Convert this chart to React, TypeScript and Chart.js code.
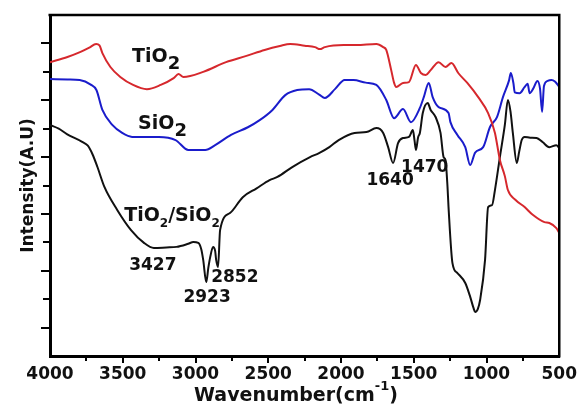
import { useEffect, useRef } from "react";
import { Chart, registerables } from "chart.js";

Chart.register(...registerables);

// FTIR spectra (transmittance, offset for clarity)
const tio2Wavenumber = [4000, 3880, 3790, 3730, 3683, 3660, 3640, 3585, 3517, 3429, 3334, 3239, 3150, 3117, 3083, 2947, 2790, 2650, 2525, 2420, 2349, 2250, 2179, 2145, 2111, 1982, 1893, 1757, 1710, 1689, 1655, 1635, 1621, 1574, 1533, 1485, 1451, 1417, 1384, 1329, 1282, 1241, 1193, 1132, 1057, 989, 942, 908, 874, 853, 800, 738, 680, 602, 568, 520, 500];
const tio2Intensity = [10.34, 10.52, 10.70, 10.85, 10.98, 10.93, 10.66, 10.17, 9.82, 9.54, 9.39, 9.54, 9.78, 9.92, 9.82, 10.00, 10.34, 10.56, 10.77, 10.91, 10.98, 10.92, 10.87, 10.80, 10.87, 10.94, 10.94, 10.98, 10.87, 10.77, 10.06, 9.61, 9.47, 9.61, 9.64, 10.24, 9.96, 9.89, 10.06, 10.34, 10.17, 10.31, 9.95, 9.61, 9.11, 8.55, 7.85, 6.90, 6.33, 5.84, 5.49, 5.24, 4.96, 4.71, 4.68, 4.50, 4.33];

const sio2Wavenumber = [4000, 3880, 3796, 3720, 3681, 3640, 3572, 3504, 3436, 3340, 3252, 3137, 3049, 2990, 2933, 2865, 2756, 2640, 2559, 2471, 2383, 2301, 2219, 2150, 2111, 2040, 1975, 1914, 1830, 1757, 1689, 1635, 1574, 1519, 1458, 1431, 1397, 1370, 1329, 1261, 1248, 1200, 1146, 1112, 1078, 1023, 976, 928, 887, 845, 833, 815, 806, 772, 740, 717, 704, 680, 650, 632, 618, 605, 580, 554, 530, 500];
const sio2Intensity = [9.75, 9.73, 9.71, 9.55, 9.36, 8.66, 8.13, 7.85, 7.71, 7.71, 7.71, 7.60, 7.25, 7.25, 7.25, 7.42, 7.78, 8.05, 8.30, 8.66, 9.18, 9.36, 9.39, 9.20, 9.08, 9.40, 9.71, 9.71, 9.62, 9.54, 9.01, 8.37, 8.69, 8.23, 8.73, 9.11, 9.61, 9.11, 8.76, 8.55, 8.23, 7.78, 7.35, 6.72, 7.16, 7.35, 8.06, 8.41, 9.11, 9.70, 9.96, 9.60, 9.28, 9.25, 9.45, 9.58, 9.25, 9.40, 9.68, 9.40, 8.59, 9.50, 9.68, 9.71, 9.66, 9.47];

const compositeWavenumber = [4000, 3940, 3884, 3776, 3740, 3708, 3674, 3626, 3538, 3443, 3354, 3286, 3200, 3130, 3050, 3015, 2981, 2960, 2947, 2926, 2912, 2899, 2879, 2865, 2858, 2845, 2831, 2763, 2675, 2580, 2491, 2437, 2335, 2213, 2151, 2080, 2016, 1907, 1825, 1757, 1710, 1676, 1642, 1608, 1574, 1533, 1506, 1495, 1485, 1470, 1458, 1438, 1404, 1384, 1350, 1316, 1295, 1282, 1268, 1261, 1234, 1200, 1146, 1112, 1090, 1078, 1060, 1044, 1010, 989, 962, 942, 908, 874, 853, 835, 819, 792, 775, 758, 738, 700, 656, 615, 568, 520, 500];
const compositeIntensity = [8.13, 8.00, 7.81, 7.53, 7.40, 7.10, 6.65, 5.95, 5.14, 4.43, 3.98, 3.80, 3.82, 3.84, 3.95, 4.01, 3.98, 3.75, 3.38, 2.60, 3.10, 3.48, 3.84, 3.70, 3.38, 3.13, 4.43, 5.03, 5.59, 5.90, 6.19, 6.30, 6.65, 7.00, 7.14, 7.35, 7.60, 7.85, 7.88, 8.02, 7.85, 7.35, 6.79, 7.49, 7.67, 7.71, 7.95, 7.60, 7.25, 7.70, 7.85, 8.55, 8.90, 8.66, 8.41, 7.85, 7.00, 6.90, 5.95, 5.24, 3.27, 2.92, 2.57, 2.08, 1.70, 1.55, 1.65, 1.97, 3.38, 5.24, 5.31, 5.84, 7.00, 8.13, 9.01, 8.60, 7.85, 6.79, 7.20, 7.60, 7.71, 7.68, 7.67, 7.53, 7.35, 7.42, 7.32];

// Axis ranges and tick labels
const wavenumberTicks = [4000, 3500, 3000, 2500, 2000, 1500, 1000, 500];
const intensityMin = 0;
const intensityMax = 12;

// Peak assignments (wavenumber, intensity at text baseline)
const peakLabels = ["3427", "2923", "2852", "1640", "1470"];
const peakLabelX = [3456, 3083, 2892, 1825, 1587];
const peakLabelY = [3.03, 1.90, 2.60, 6.02, 6.47];

// Sample names: [main text, subscript] segments
const sampleNames = [
  [["TiO", "2"]],
  [["SiO", "2"]],
  [["TiO", "2"], ["/SiO", "2"]],
];
const sampleLabelX = [3436, 3395, 3490];
const sampleLabelY = [10.34, 7.99, 4.75];

const FONT = "'DejaVu Sans', Arial, sans-serif";

const toPoints = (xs: number[], ys: number[]) => xs.map((x, i) => ({ x, y: ys[i] }));

type Seg = { t: string; size: number; dy: number };

function drawSegments(ctx: CanvasRenderingContext2D, segs: Seg[], x: number, y: number) {
  let cx = x;
  for (const s of segs) {
    ctx.font = `bold ${s.size}px ${FONT}`;
    ctx.fillText(s.t, cx, y + s.dy);
    cx += ctx.measureText(s.t).width;
  }
}

function segmentsWidth(ctx: CanvasRenderingContext2D, segs: Seg[]) {
  let w = 0;
  for (const s of segs) {
    ctx.font = `bold ${s.size}px ${FONT}`;
    w += ctx.measureText(s.t).width;
  }
  return w;
}

const framePlugin = {
  id: "frameAndLabels",
  afterDraw(chart: any) {
    const { ctx, chartArea: a, scales } = chart;
    const xs = scales.x;
    const ys = scales.y;
    ctx.save();
    ctx.strokeStyle = "#000";
    ctx.fillStyle = "#111";

    // top and right frame
    ctx.lineWidth = 2.5;
    ctx.beginPath();
    ctx.moveTo(a.left - 1.5, a.top);
    ctx.lineTo(a.right, a.top);
    ctx.lineTo(a.right, a.bottom + 1.5);
    ctx.stroke();

    // outward tick marks
    ctx.lineWidth = 2;
    ctx.beginPath();
    for (let v = intensityMin + 1; v < intensityMax; v++) {
      const y = Math.round(ys.getPixelForValue(v));
      const len = v % 2 === 1 ? 9 : 7;
      ctx.moveTo(a.left - len, y);
      ctx.lineTo(a.left, y);
    }
    for (let w = 750; w < 4000; w += 250) {
      const x = Math.round(xs.getPixelForValue(w));
      const len = w % 500 === 0 ? 7 : 5;
      ctx.moveTo(x, a.bottom);
      ctx.lineTo(x, a.bottom + len);
    }
    ctx.stroke();

    ctx.textAlign = "left";
    ctx.textBaseline = "alphabetic";

    // peak positions
    ctx.font = `bold 17px ${FONT}`;
    peakLabels.forEach((t, i) => {
      ctx.fillText(t, xs.getPixelForValue(peakLabelX[i]), ys.getPixelForValue(peakLabelY[i]));
    });

    // sample names with subscripts
    sampleNames.forEach((parts, i) => {
      const small = parts.length > 1;
      const segs: Seg[] = [];
      parts.forEach(([main, sub]) => {
        segs.push({ t: main, size: 19, dy: 0 });
        segs.push({ t: sub, size: small ? 12 : 18, dy: small ? 6 : 7 });
      });
      drawSegments(ctx, segs, xs.getPixelForValue(sampleLabelX[i]), ys.getPixelForValue(sampleLabelY[i]));
    });

    // axis titles
    const xTitle: Seg[] = [
      { t: "Wavenumber(cm", size: 19, dy: 0 },
      { t: "-1", size: 13, dy: -11 },
      { t: ")", size: 19, dy: 0 },
    ];
    const xw = segmentsWidth(ctx, xTitle);
    drawSegments(ctx, xTitle, 296 - xw / 2, 401);

    ctx.translate(33, (a.top + a.bottom) / 2);
    ctx.rotate(-Math.PI / 2);
    ctx.textAlign = "center";
    ctx.font = `bold 17px ${FONT}`;
    ctx.fillText("Intensity(A.U)", 0, 0);
    ctx.restore();
  },
};

export default function App() {
  const canvasRef = useRef<HTMLCanvasElement>(null);

  useEffect(() => {
    const canvas = canvasRef.current;
    if (!canvas) return;
    const lineStyle = {
      borderWidth: 2,
      pointRadius: 0,
      fill: false,
      cubicInterpolationMode: "monotone" as const,
    };
    const chart = new Chart(canvas, {
      type: "line",
      data: {
        datasets: [
          { label: "TiO2", data: toPoints(tio2Wavenumber, tio2Intensity), borderColor: "#d6282d", ...lineStyle },
          { label: "SiO2", data: toPoints(sio2Wavenumber, sio2Intensity), borderColor: "#1a1ccb", ...lineStyle },
          { label: "TiO2/SiO2", data: toPoints(compositeWavenumber, compositeIntensity), borderColor: "#111111", ...lineStyle },
        ],
      },
      options: {
        animation: false,
        responsive: false,
        devicePixelRatio: 1,
        layout: { padding: { top: 15, right: 20, left: 0, bottom: 0 } },
        plugins: { legend: { display: false }, tooltip: { enabled: false } },
        scales: {
          x: {
            type: "linear",
            reverse: true,
            min: 500,
            max: 4000,
            afterBuildTicks: (scale: any) => {
              scale.ticks = wavenumberTicks.map((value) => ({ value }));
            },
            afterFit: (scale: any) => {
              scale.height = 49;
            },
            grid: { display: false, drawTicks: false },
            border: { display: true, width: 3, color: "#000" },
            ticks: {
              autoSkip: false,
              maxRotation: 0,
              padding: 8,
              color: "#111",
              font: { family: FONT, size: 17, weight: "bold" },
              callback: (v: any) => String(v),
            },
          },
          y: {
            type: "linear",
            min: intensityMin,
            max: intensityMax,
            afterFit: (scale: any) => {
              scale.width = 50;
            },
            grid: { display: false },
            border: { display: true, width: 3, color: "#000" },
            ticks: { display: false },
          },
        },
      },
      plugins: [framePlugin],
    });
    return () => chart.destroy();
  }, []);

  return (
    <div style={{ position: "fixed", left: 0, top: 0, width: 585, height: 405, background: "#fff" }}>
      <canvas ref={canvasRef} width={585} height={405} />
    </div>
  );
}
